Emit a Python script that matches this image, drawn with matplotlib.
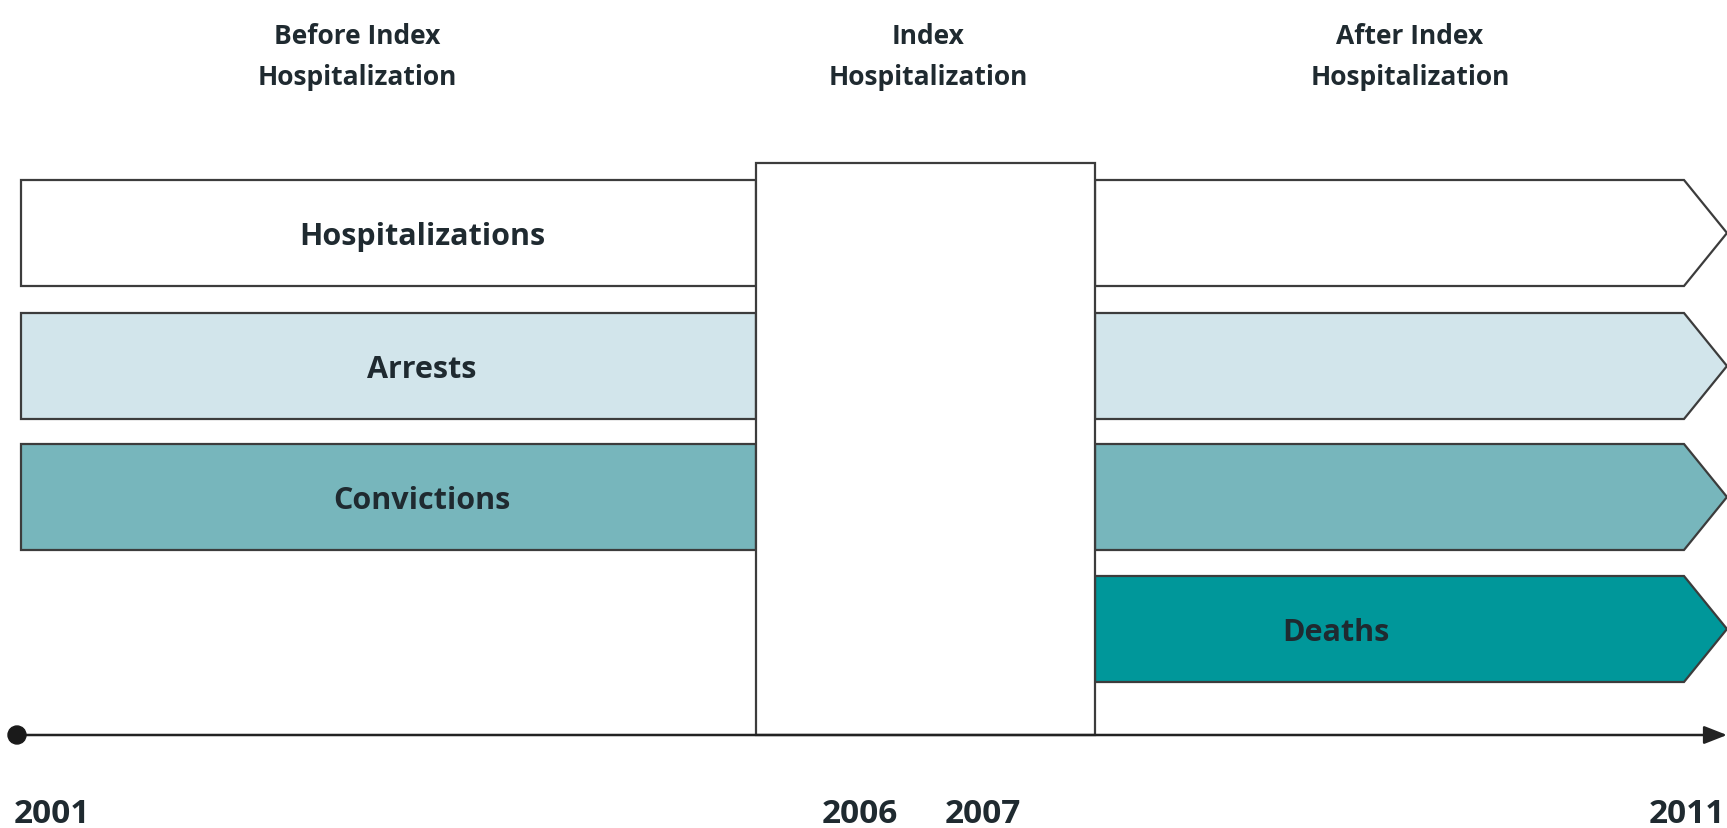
import matplotlib.pyplot as plt
from matplotlib.patches import Polygon, Rectangle, Circle

# --- chart content ---
rows = ['Hospitalizations', 'Arrests', 'Convictions', 'Deaths']
row_colors = ['#ffffff', '#d2e5eb', '#77b6bc', '#00979a']
in_before = [True, True, True, False]   # row has a segment before index hospitalization
in_after = [True, True, True, True]     # row has a segment after index hospitalization
label_in = ['before', 'before', 'before', 'after']

periods = ['Before Index\nHospitalization', 'Index\nHospitalization', 'After Index\nHospitalization']
years = ['2001', '2006', '2007', '2011']

# --- layout (pixel units of the 1727x829 picture) ---
W, H = 1727, 829
left_x, idx_l, idx_r, chev_x, tip_x = 21, 756, 1095, 1684, 1727
row_top = [181, 314, 445, 577]
row_h = 106
idx_top, axis_y = 164, 736
period_x = [357, 928, 1410]
label_x = {'before': 422, 'after': 1336}
year_x = [14, 860, 983, 1725]
year_ha = ['left', 'center', 'center', 'right']

edge = '#3c3c3c'
txt = '#1f2a30'
plt.rcParams['font.family'] = ['Open Sans', 'DejaVu Sans']


def main():
    fig = plt.figure(figsize=(W / 100, H / 100), dpi=100)
    ax = fig.add_axes([0, 0, 1, 1])
    ax.set_xlim(0, W)
    ax.set_ylim(H, 0)
    ax.axis('off')

    for i, name in enumerate(rows):
        top = row_top[i]
        bot = top + row_h
        mid = top + row_h / 2
        if in_before[i]:
            ax.add_patch(Rectangle((left_x, top), idx_l - left_x, row_h,
                                   facecolor=row_colors[i], edgecolor=edge, lw=1.6, zorder=2))
        if in_after[i]:
            pts = [(idx_r, top), (chev_x, top), (tip_x, mid), (chev_x, bot), (idx_r, bot)]
            ax.add_patch(Polygon(pts, closed=True, facecolor=row_colors[i],
                                 edgecolor=edge, lw=1.6, zorder=2, clip_on=False))
        ax.text(label_x[label_in[i]], mid + 3, name, ha='center', va='center',
                fontsize=22, fontweight='bold', color=txt, zorder=4)

    # index hospitalization box
    ax.add_patch(Rectangle((idx_l, idx_top), idx_r - idx_l, axis_y - idx_top,
                           facecolor='white', edgecolor=edge, lw=1.6, zorder=3))

    # timeline
    ax.annotate('', xy=(W, axis_y), xytext=(left_x, axis_y),
                arrowprops=dict(arrowstyle='-|>,head_length=1.4,head_width=0.55',
                                color='#222222', lw=1.8, shrinkA=0, shrinkB=0),
                zorder=3, annotation_clip=False)
    ax.add_patch(Circle((left_x - 4, axis_y), 9, color='#1a1a1a', zorder=4))

    for x, p in zip(period_x, periods):
        ax.text(x, 57, p, ha='center', va='center', fontsize=19,
                fontweight='bold', color=txt, linespacing=1.7)

    for x, y, ha in zip(year_x, years, year_ha):
        ax.text(x, 815, y, ha=ha, va='center', fontsize=24,
                fontweight='bold', color=txt)

    fig.savefig('out.png', dpi=100)


if __name__ == '__main__':
    main()
